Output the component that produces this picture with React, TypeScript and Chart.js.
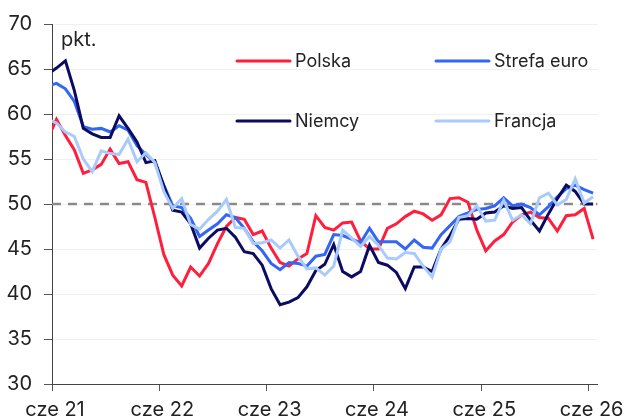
import React, { useEffect, useRef } from "react";
import { Chart, registerables } from "chart.js";

Chart.register(...registerables);

// Monthly PMI readings, May 2021 (index -1, clipped at the left edge) to Jun 2026
const firstIndex = -1;

const polska = [
  57.2, 59.4, 57.6, 56.0, 53.4, 53.8, 54.4, 56.1,
  54.5, 54.7, 52.7, 52.4, 48.5, 44.4, 42.1, 40.9, 43.0, 42.0, 43.4, 45.6,
  47.5, 48.5, 48.3, 46.6, 47.0, 45.1, 43.5, 43.1, 43.9, 44.5, 48.7, 47.4,
  47.1, 47.9, 48.0, 45.9, 45.0, 45.0, 47.3, 47.8, 48.6, 49.2, 48.9, 48.2,
  48.8, 50.6, 50.7, 50.2, 47.1, 44.8, 45.9, 46.6, 48.0, 48.8, 49.1, 48.5,
  48.4, 47.0, 48.7, 48.8, 49.5, 46.1,
];

const strefaEuro = [
  63.1, 63.4, 62.8, 61.4, 58.6, 58.3, 58.4, 58.0,
  58.7, 58.2, 56.5, 55.5, 54.6, 52.1, 49.8, 49.6, 48.4, 46.4, 47.1, 47.8,
  48.8, 48.5, 47.3, 45.8, 44.8, 43.4, 42.7, 43.5, 43.4, 43.1, 44.2, 44.4,
  46.6, 46.5, 46.1, 45.7, 47.3, 45.8, 45.8, 45.8, 45.0, 46.0, 45.2, 45.1,
  46.6, 47.6, 48.6, 49.0, 49.4, 49.5, 49.8, 50.7, 49.8, 50.0, 49.6, 48.8,
  49.7, 50.8, 51.7, 52.1, 51.6, 51.2,
];

const niemcy = [
  64.4, 65.1, 65.9, 62.6, 58.4, 57.8, 57.4, 57.4,
  59.8, 58.4, 56.9, 54.6, 54.8, 52.0, 49.3, 49.1, 47.8, 45.1, 46.2, 47.1,
  47.3, 46.3, 44.7, 44.5, 43.2, 40.6, 38.8, 39.1, 39.6, 40.8, 42.6, 43.3,
  45.5, 42.5, 41.9, 42.5, 45.4, 43.5, 43.2, 42.4, 40.6, 43.0, 43.0, 42.5,
  45.0, 46.5, 48.3, 48.4, 48.3, 49.0, 49.1, 49.8, 49.5, 49.6, 48.2, 47.0,
  48.9, 50.6, 52.1, 51.4, 50.0, 50.0,
];

const francja = [
  59.4, 59.0, 58.0, 57.5, 55.0, 53.6, 55.9, 55.6,
  55.5, 57.2, 54.7, 55.7, 54.6, 51.4, 49.5, 50.6, 47.7, 47.2, 48.3, 49.2,
  50.5, 47.4, 47.3, 45.6, 45.7, 46.0, 45.1, 46.0, 44.2, 42.8, 42.9, 42.1,
  43.1, 47.1, 46.2, 45.3, 46.4, 45.4, 44.0, 43.9, 44.6, 44.5, 43.1, 41.9,
  45.0, 45.8, 48.5, 48.7, 49.8, 48.1, 48.2, 50.4, 48.2, 48.8, 47.8, 50.7,
  51.2, 49.9, 50.5, 52.8, 50.1, 50.8,
];

const tickLabels = ["cze 21", "cze 22", "cze 23", "cze 24", "cze 25", "cze 26"];
const threshold = 50;
const yMin = 30;
const yMax = 70;
const xMin = -0.5;
const xMax = 60.5;

const FONT = "Inter, 'Noto Sans', sans-serif";

const toPoints = (arr: number[]) => arr.map((y, i) => ({ x: firstIndex + i, y }));

const legendPlugin = {
  id: "customLegend",
  afterDraw(chart: any) {
    const ctx = chart.ctx;
    const { left, top } = chart.chartArea;
    const items = chart.data.datasets.filter((d: any) => d.inLegend);
    const cols = [185, 384];
    const rows = [37, 97];
    ctx.save();
    ctx.font = `18px ${FONT}`;
    ctx.textBaseline = "middle";
    ctx.fillStyle = "#222222";
    items.forEach((d: any, i: number) => {
      const cx = left + cols[i % 2];
      const cy = top + rows[Math.floor(i / 2)];
      ctx.strokeStyle = d.borderColor;
      ctx.lineWidth = 3;
      ctx.lineCap = "round";
      ctx.beginPath();
      ctx.moveTo(cx, cy);
      ctx.lineTo(cx + 53, cy);
      ctx.stroke();
      ctx.fillText(d.label, cx + 58, cy + 1);
    });
    ctx.font = `20px ${FONT}`;
    ctx.textBaseline = "alphabetic";
    ctx.fillText("pkt.", left + 9, top + 22);
    ctx.restore();
  },
};

export default function App() {
  const ref = useRef<HTMLCanvasElement | null>(null);

  useEffect(() => {
    if (!ref.current) return;
    const line = (label: string, data: number[], color: string, order: number) => ({
      label,
      data: toPoints(data),
      borderColor: color,
      backgroundColor: color,
      borderWidth: 3,
      pointRadius: 0,
      tension: 0,
      order,
      inLegend: true,
    });
    const chart = new Chart(ref.current, {
      type: "line",
      data: {
        datasets: [
          line("Polska", polska, "#ff1f3d", 4),
          line("Strefa euro", strefaEuro, "#3366f5", 3),
          line("Niemcy", niemcy, "#0b0b62", 2),
          line("Francja", francja, "#a8cbfb", 1),
          {
            label: "",
            data: [
              { x: xMin, y: threshold },
              { x: xMax, y: threshold },
            ],
            borderColor: "#8a8a8a",
            borderWidth: 2.5,
            borderDash: [9, 7],
            pointRadius: 0,
            order: 5,
            inLegend: false,
          } as any,
        ],
      },
      options: {
        animation: false,
        responsive: true,
        maintainAspectRatio: false,
        layout: { padding: { top: 21, right: 29, bottom: 10, left: 0 } },
        plugins: {
          legend: { display: false },
          tooltip: { enabled: false },
        },
        scales: {
          x: {
            type: "linear",
            min: xMin,
            max: xMax,
            afterBuildTicks: (scale: any) => {
              scale.ticks = tickLabels.map((_, k) => ({ value: xMin + 12 * k }));
            },
            afterFit: (scale: any) => {
              scale.height = 46;
            },
            ticks: {
              autoSkip: false,
              maxRotation: 0,
              padding: 7,
              labelOffset: 3,
              color: "#222222",
              font: { family: FONT, size: 20 },
              callback: (_v: any, i: number) => tickLabels[i],
            },
            grid: {
              display: true,
              drawOnChartArea: false,
              drawTicks: true,
              tickLength: 7,
              tickColor: "#555555",
            },
            border: { display: true, color: "#444444", width: 1 },
          },
          y: {
            min: yMin,
            max: yMax,
            afterFit: (scale: any) => {
              scale.width = 52;
            },
            ticks: {
              stepSize: 5,
              padding: 12,
              color: "#222222",
              font: { family: FONT, size: 20 },
            },
            grid: {
              color: "#f0f0f0",
              tickColor: "#555555",
              tickLength: 8,
            },
            border: { display: true, color: "#444444", width: 1 },
          },
        },
      } as any,
      plugins: [legendPlugin],
    });
    return () => chart.destroy();
  }, []);

  return (
    <div
      style={{
        position: "fixed",
        left: 0,
        top: 0,
        width: 628,
        height: 418,
        overflow: "hidden",
        background: "#ffffff",
      }}
    >
      <div style={{ position: "relative", width: 628, height: 440 }}>
        <canvas ref={ref} />
      </div>
    </div>
  );
}
